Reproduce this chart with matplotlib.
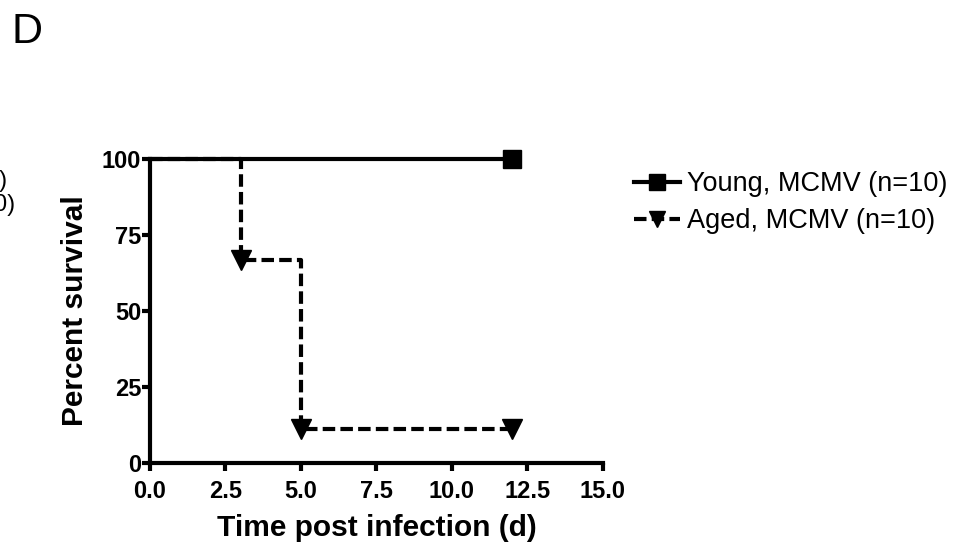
import matplotlib
matplotlib.use("Agg")
import matplotlib.pyplot as plt

plt.rcParams["font.family"] = ["Liberation Sans", "DejaVu Sans"]

# Kaplan-Meier survival data (percent survival vs day post infection)
young_days = [0, 12]
young_surv = [100, 100]
aged_days = [0, 3, 5, 12]
aged_surv = [100, 66.7, 11.1, 11.1]

x_ticks = [0.0, 2.5, 5.0, 7.5, 10.0, 12.5, 15.0]
y_ticks = [0, 25, 50, 75, 100]

LW = 3.0
DASH = (0, (3.0, 1.25))

fig = plt.figure(figsize=(9.65, 5.43), dpi=100)
ax = fig.add_axes([0.1554, 0.1473, 0.4694, 0.5599])

ax.step(young_days, young_surv, where="post", color="black", lw=LW,
        marker="s", ms=13.5, markevery=[1], label="Young, MCMV (n=10)",
        clip_on=False)
ax.step(aged_days, aged_surv, where="post", color="black", lw=LW,
        ls=DASH, marker="v", ms=14, markevery=[1, 2, 3],
        label="Aged, MCMV (n=10)", clip_on=False)

ax.set_xlim(0, 15)
ax.set_ylim(0, 100)
ax.set_xticks(x_ticks)
ax.set_xticklabels([f"{t:.1f}" for t in x_ticks])
ax.set_yticks(y_ticks)
for s in ("top", "right"):
    ax.spines[s].set_visible(False)
for s in ("left", "bottom"):
    ax.spines[s].set_linewidth(LW)
ax.tick_params(direction="out", length=6, width=LW, labelsize=17)
ax.tick_params(axis="x", pad=6.5)
ax.tick_params(axis="y", pad=0.3)
for lab in ax.get_xticklabels() + ax.get_yticklabels():
    lab.set_fontweight("bold")

ax.set_xlabel("Time post infection (d)", fontsize=21.5, fontweight="bold",
              labelpad=8)
ax.set_ylabel("Percent survival", fontsize=21.5, fontweight="bold",
              labelpad=9.5)

ax.legend(loc="upper left", bbox_to_anchor=(634 / 965, 1 - 171 / 543),
          bbox_transform=fig.transFigure, frameon=False,
          fontsize=19.5, handlelength=1.70, handletextpad=0.26,
          labelspacing=0.41, borderaxespad=0, borderpad=0, numpoints=1,
          markerscale=0.85)

fig.text(0.0124, 1 - 43 / 543, "D", fontsize=31, ha="left", va="baseline")
# cut-off legend text from the neighbouring panel
fig.text(0.0075, 1 - 187 / 543, "(n=10)", fontsize=17, ha="right",
         va="baseline")
fig.text(0.0165, 1 - 211 / 543, "(n=10)", fontsize=17, ha="right",
         va="baseline")

fig.savefig("out.png", dpi=100)
